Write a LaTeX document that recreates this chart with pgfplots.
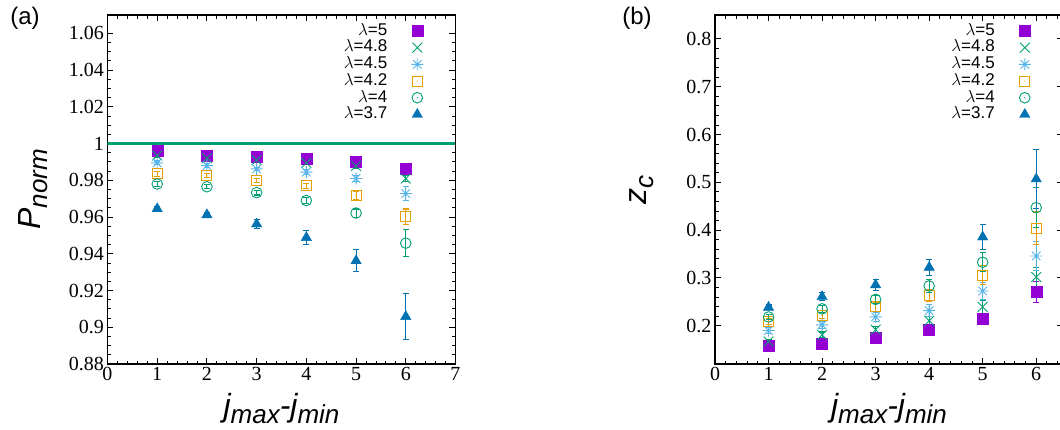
\documentclass[border=0pt]{standalone}
\usepackage{fontspec}
\setmainfont{Liberation Sans}
\newfontfamily\tickfont{Liberation Serif}
\usepackage{pgfplots}
\pgfplotsset{compat=1.18}

\definecolor{cpurple}{HTML}{9400D3}
\definecolor{cgreen}{HTML}{009E73}
\definecolor{clblue}{HTML}{56B4E9}
\definecolor{corange}{HTML}{E69F00}
\definecolor{cblue}{HTML}{0072B2}

% gnuplot-like point types
\pgfdeclareplotmark{plusx}{%
  \pgfpathmoveto{\pgfqpoint{-\pgfplotmarksize}{0pt}}\pgfpathlineto{\pgfqpoint{\pgfplotmarksize}{0pt}}%
  \pgfpathmoveto{\pgfqpoint{0pt}{-\pgfplotmarksize}}\pgfpathlineto{\pgfqpoint{0pt}{\pgfplotmarksize}}%
  \pgfpathmoveto{\pgfqpoint{-.707\pgfplotmarksize}{-.707\pgfplotmarksize}}\pgfpathlineto{\pgfqpoint{.707\pgfplotmarksize}{.707\pgfplotmarksize}}%
  \pgfpathmoveto{\pgfqpoint{-.707\pgfplotmarksize}{.707\pgfplotmarksize}}\pgfpathlineto{\pgfqpoint{.707\pgfplotmarksize}{-.707\pgfplotmarksize}}%
  \pgfusepathqstroke}
\pgfdeclareplotmark{sqdot}{%
  \pgfpathrectangle{\pgfqpoint{-\pgfplotmarksize}{-\pgfplotmarksize}}{\pgfqpoint{2\pgfplotmarksize}{2\pgfplotmarksize}}%
  \pgfusepathqstroke
  \pgfpathcircle{\pgfpointorigin}{0.6pt}\pgfusepathqfill}
\pgfdeclareplotmark{circdot}{%
  \pgfpathcircle{\pgfpointorigin}{\pgfplotmarksize}\pgfusepathqstroke
  \pgfpathcircle{\pgfpointorigin}{0.6pt}\pgfusepathqfill}

\newcommand\sub[1]{\raisebox{-7pt}{\fontsize{26}{26}\selectfont #1}}

\pgfplotsset{
  panel/.style={
    width=348pt, height=349pt, scale only axis,
    tick align=inside,
    axis line style={line width=1.2pt},
    major tick length=6pt, minor tick length=3.5pt,
    every tick/.style={black, line width=0.9pt},
    xmin=0, xtick={0,...,7}, minor x tick num=4,
    tick label style={font=\tickfont\fontsize{20}{20}\selectfont},
    /pgf/number format/assume math mode=true,
    xlabel={\fontsize{32}{32}\selectfont\itshape j\sub{max}-j\sub{min}},
    xlabel style={at={(axis description cs:0.5,-0.128)}, anchor=center},
    legend style={draw=none, fill=none, at={(1,1)}, anchor=north east,
      xshift=-32pt, yshift=-8pt, font=\fontsize{17}{17}\selectfont,
      legend cell align=right, legend plot pos=right,
      row sep=1.2pt, column sep=24pt, inner sep=0pt,
      nodes={inner sep=0pt, text height=12pt, text depth=3.5pt}},
    error bars/y dir=both, error bars/y explicit,
    error bars/error bar style={line width=1.1pt},
    error bars/error mark options={rotate=90, mark size=3pt, line width=1.1pt},
  },
  s5/.style={only marks, color=cpurple, mark=square*, mark size=5.5pt},
  s48/.style={only marks, color=cgreen, mark=x, mark size=7pt, mark options={line width=0.9pt}},
  s45/.style={only marks, color=clblue, mark=plusx, mark size=6pt, mark options={line width=0.9pt}},
  s42/.style={only marks, color=corange, mark=sqdot, mark size=5pt, mark options={line width=0.9pt}},
  s4/.style={only marks, color=cgreen, mark=circdot, mark size=5.3pt, mark options={line width=0.9pt}},
  s37/.style={only marks, color=cblue, mark=triangle*, mark size=6pt},
}

\begin{document}
\begin{tikzpicture}
\begin{axis}[panel, at={(107.5pt,65pt)}, anchor=south west,
  xmax=7, ymin=0.88, ymax=1.07,
  ytick={0.88,0.9,0.92,0.94,0.96,0.98,1,1.02,1.04,1.06}, minor y tick num=3,
  ylabel={\fontsize{32}{32}\selectfont\itshape P\sub{norm}},
  ylabel style={at={(axis description cs:-0.215,0.5)}, anchor=center}]
\addplot[cgreen, line width=2.4pt, forget plot] coordinates {(0,1) (7,1)};
\addplot[s5] coordinates {(1,0.996)+-(0,0.0008) (2,0.9935)+-(0,0.0008) (3,0.993)+-(0,0.0008) (4,0.992)+-(0,0.0008) (5,0.990)+-(0,0.0009) (6,0.9865)+-(0,0.0012)};
\addplot[s48] coordinates {(1,0.9935)+-(0,0.0008) (2,0.992)+-(0,0.0008) (3,0.991)+-(0,0.0008) (4,0.9895)+-(0,0.001) (5,0.9878)+-(0,0.0012) (6,0.981)+-(0,0.0018)};
\addplot[s45] coordinates {(1,0.9895)+-(0,0.001) (2,0.988)+-(0,0.001) (3,0.9862)+-(0,0.001) (4,0.9845)+-(0,0.0012) (5,0.981)+-(0,0.0015) (6,0.9728)+-(0,0.0038)};
\addplot[s42] coordinates {(1,0.9835)+-(0,0.0012) (2,0.9825)+-(0,0.0012) (3,0.980)+-(0,0.0012) (4,0.977)+-(0,0.0015) (5,0.9718)+-(0,0.002) (6,0.9602)+-(0,0.0042)};
\addplot[s4] coordinates {(1,0.978)+-(0,0.0012) (2,0.9765)+-(0,0.0012) (3,0.9733)+-(0,0.0013) (4,0.969)+-(0,0.0015) (5,0.9622)+-(0,0.0022) (6,0.9458)+-(0,0.0073)};
\addplot[s37] coordinates {(1,0.9645)+-(0,0.001) (2,0.9612)+-(0,0.0012) (3,0.9562)+-(0,0.0024) (4,0.9488)+-(0,0.0038) (5,0.9362)+-(0,0.006) (6,0.9058)+-(0,0.0125)};
\legend{\(\lambda\)=5, \(\lambda\)=4.8, \(\lambda\)=4.5, \(\lambda\)=4.2, \(\lambda\)=4, \(\lambda\)=3.7}
\end{axis}

\begin{axis}[panel, at={(715pt,65pt)}, anchor=south west,
  xmax=6.5, ymin=0.12, ymax=0.85,
  ytick={0.2,0.3,0.4,0.5,0.6,0.7,0.8}, minor y tick num=4,
  ylabel={\fontsize{32}{32}\selectfont\itshape z\sub{c}},
  ylabel style={at={(axis description cs:-0.21,0.5)}, anchor=center}]
\addplot[s5] coordinates {(1,0.158)+-(0,0.004) (2,0.163)+-(0,0.004) (3,0.174)+-(0,0.004) (4,0.192)+-(0,0.006) (5,0.215)+-(0,0.01) (6,0.271)+-(0,0.022)};
\addplot[s48] coordinates {(1,0.167)+-(0,0.005) (2,0.181)+-(0,0.006) (3,0.192)+-(0,0.007) (4,0.2105)+-(0,0.009) (5,0.2395)+-(0,0.013) (6,0.302)+-(0,0.019)};
\addplot[s45] coordinates {(1,0.19)+-(0,0.006) (2,0.202)+-(0,0.008) (3,0.2185)+-(0,0.009) (4,0.2317)+-(0,0.012) (5,0.2727)+-(0,0.017) (6,0.346)+-(0,0.03)};
\addplot[s42] coordinates {(1,0.2086)+-(0,0.006) (2,0.2213)+-(0,0.007) (3,0.2395)+-(0,0.01) (4,0.2635)+-(0,0.012) (5,0.3058)+-(0,0.02) (6,0.404)+-(0,0.034)};
\addplot[s4] coordinates {(1,0.2184)+-(0,0.005) (2,0.2353)+-(0,0.007) (3,0.2551)+-(0,0.009) (4,0.2833)+-(0,0.013) (5,0.3328)+-(0,0.02) (6,0.447)+-(0,0.042)};
\addplot[s37] coordinates {(1,0.2385)+-(0,0.005) (2,0.2607)+-(0,0.008) (3,0.2854)+-(0,0.012) (4,0.3221)+-(0,0.017) (5,0.3856)+-(0,0.027) (6,0.507)+-(0,0.061)};
\legend{\(\lambda\)=5, \(\lambda\)=4.8, \(\lambda\)=4.5, \(\lambda\)=4.2, \(\lambda\)=4, \(\lambda\)=3.7}
\end{axis}

\node[font=\fontsize{24}{24}\selectfont] at (25pt,411pt) {(a)};
\node[font=\fontsize{24}{24}\selectfont] at (637pt,411pt) {(b)};
\pgfresetboundingbox
\path[use as bounding box] (0pt,0pt) rectangle (1060pt,429pt);
\end{tikzpicture}
\end{document}
